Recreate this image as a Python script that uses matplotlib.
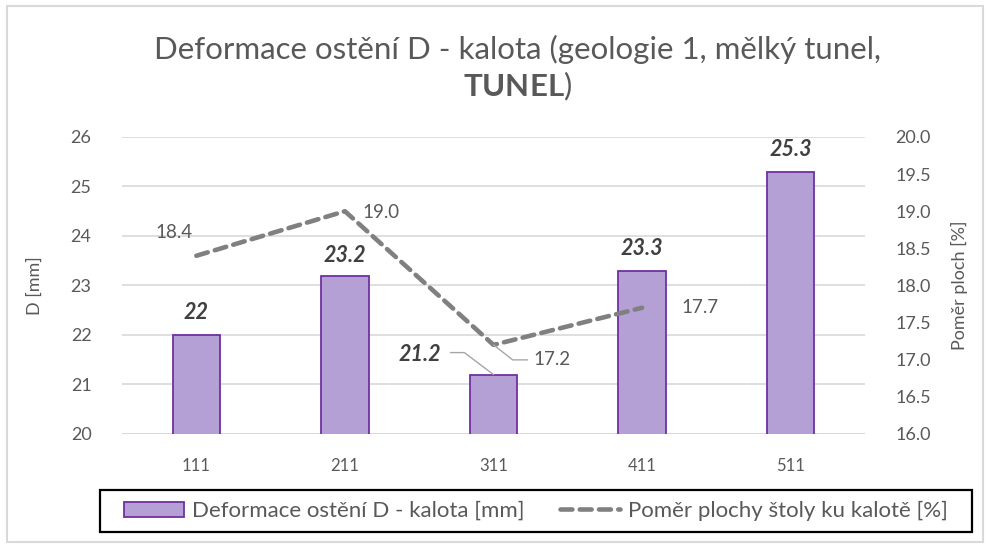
import matplotlib.pyplot as plt
from matplotlib.patches import Rectangle

plt.rcParams['font.family'] = ['Lato', 'DejaVu Sans']
plt.rcParams['mathtext.fontset'] = 'custom'
plt.rcParams['mathtext.bf'] = 'Lato:bold'
plt.rcParams['mathtext.rm'] = 'Lato'

categories = ['111', '211', '311', '411', '511']
deformace = [22, 23.2, 21.2, 23.3, 25.3]
pomer = [18.4, 19.0, 17.2, 17.7]
bar_labels = ['22', '23.2', '21.2', '23.3', '25.3']
line_labels = ['18.4', '19.0', '17.2', '17.7']

grey = '#595959'
fig = plt.figure(figsize=(9.89, 5.47), dpi=100)
ax = fig.add_axes([0.1234, 0.2066, 0.7512, 0.543])
ax2 = ax.twinx()

x = list(range(len(categories)))
bars = ax.bar(x, deformace, width=0.32, color='#b4a0d4', edgecolor='#7030a0',
              linewidth=1.3, label='Deformace ostění D - kalota [mm]', zorder=2)
line, = ax2.plot(x[:len(pomer)], pomer, color='#808080', linewidth=3.3,
                 dashes=(2.6, 1.6), dash_capstyle='round',
                 label='Poměr plochy štoly ku kalotě [%]', zorder=3)

ax.set_ylim(20, 26)
ax.set_xlim(-0.5, 4.5)
ax2.set_ylim(16, 20)
ax.set_yticks(range(20, 27))
ax2.set_yticks([16 + 0.5 * i for i in range(9)])
ax2.set_yticklabels([f'{16 + 0.5 * i:.1f}' for i in range(9)])
ax.set_xticks(x)
ax.set_xticklabels(categories)
ax.yaxis.grid(True, color='#d9d9d9', linewidth=1.2, zorder=0)
ax.set_axisbelow(True)
for a in (ax, ax2):
    for s in a.spines.values():
        s.set_visible(False)
    a.tick_params(length=0, colors=grey, labelsize=13)
ax.tick_params(axis='y', pad=22)
ax.tick_params(axis='x', pad=17, labelsize=12)
ax2.tick_params(axis='y', pad=22)
ax.axhline(20, color='#d9d9d9', linewidth=1.2, zorder=1)

ax.set_ylabel('D [mm]', color=grey, fontsize=13, labelpad=20)
ax2.set_ylabel('Poměr ploch [%]', color=grey, fontsize=13, labelpad=14)

# bar value labels
bar_off = [(0, 22), (0, 20), (-74, 20), (0, 22), (0, 22)]
for i, (v, t) in enumerate(zip(deformace, bar_labels)):
    dx, dy = bar_off[i]
    ax.annotate(t, (i, v), xytext=(dx, dy), textcoords='offset pixels',
                ha='center', va='center', fontsize=15.5, fontweight='bold',
                fontstyle='italic', color='#404040')
ax.annotate('', (2, deformace[2]), xytext=(-43, 22), textcoords='offset pixels',
            arrowprops=dict(arrowstyle='-', color='#a6a6a6', lw=1,
                            shrinkA=0, shrinkB=0,
                            connectionstyle='angle,angleA=0,angleB=-37,rad=0'))

# line value labels
line_off = [(-22, 23), (36, -1), (58, -15), (58, 0)]
for i, (v, t) in enumerate(zip(pomer, line_labels)):
    dx, dy = line_off[i]
    ax2.annotate(t, (i, v), xytext=(dx, dy), textcoords='offset pixels',
                 ha='center', va='center', fontsize=13.5, color=grey)
ax2.annotate('', (2, pomer[2]), xytext=(34, -15), textcoords='offset pixels',
             arrowprops=dict(arrowstyle='-', color='#a6a6a6', lw=1,
                             shrinkA=0, shrinkB=0,
                             connectionstyle='angle,angleA=0,angleB=142,rad=0'))

fig.suptitle('Deformace ostění D - kalota (geologie 1, mělký tunel,\n'
             r'$\mathbf{TUNEL}$)', x=0.523, y=0.937, fontsize=22.5, color=grey,
             linespacing=1.22)

# legend with its own frame
fig.patches.append(Rectangle((100 / 989, 1 - 532 / 547), 872 / 989, 42 / 547,
                             transform=fig.transFigure, fill=False,
                             edgecolor='black', linewidth=1.6))
fig.legend(handles=[bars, line], loc='center', ncol=2,
           bbox_to_anchor=(0.542, 1 - 511 / 547), frameon=False,
           fontsize=16, handlelength=2.7, handletextpad=0.35,
           columnspacing=1.6, labelcolor=grey)

fig.patches.append(Rectangle((0.007, 0.01), 0.987, 0.979, transform=fig.transFigure,
                             fill=False, edgecolor='#d9d9d9', linewidth=1.5))

fig.savefig('out.png', dpi=100)
